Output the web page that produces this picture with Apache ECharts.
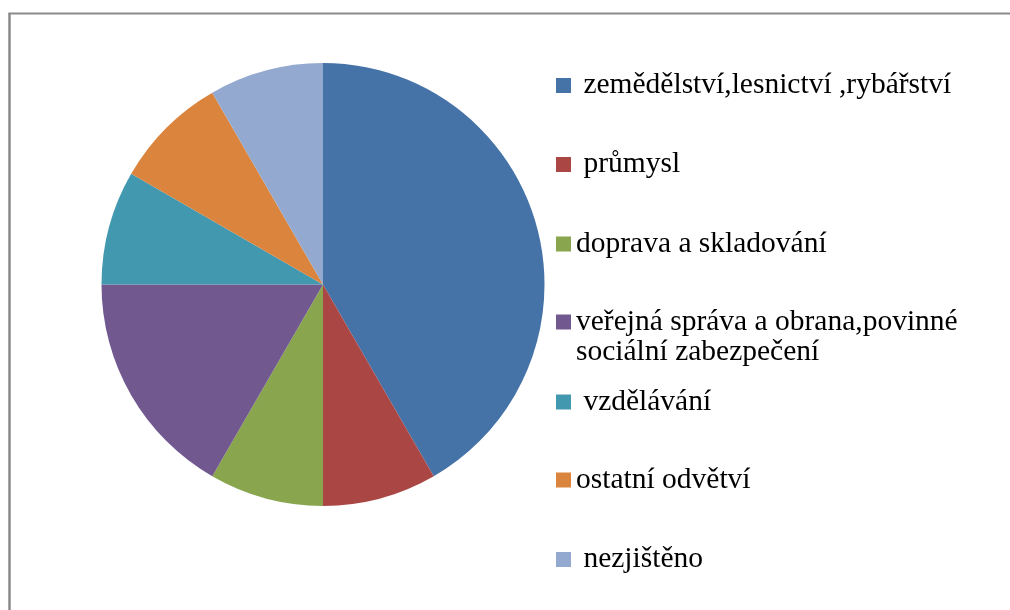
<!DOCTYPE html>
<html>
<head>
<meta charset="utf-8">
<script src="https://cdn.jsdelivr.net/npm/echarts@6/dist/echarts.min.js"></script>
<style>
html,body{margin:0;padding:0;background:#fff;}
#c{width:1010px;height:610px;}
</style>
</head>
<body>
<div id="c"></div>
<script>
const categories = [
  ' zemědělství,lesnictví ,rybářství',
  ' průmysl',
  'doprava a skladování',
  'veřejná správa a obrana,povinné\nsociální zabezpečení',
  ' vzdělávání',
  'ostatní odvětví',
  ' nezjištěno'
];
const values = [5, 1, 1, 2, 1, 1, 1];
const colors = ['#4572A7', '#AA4643', '#89A54E', '#71588F', '#4198AF', '#DB843D', '#93A9CF'];

const legendCenters = [85.5, 164.5, 244, 322, 402, 480, 559.5];
const LH = 30;

const chart = echarts.init(document.getElementById('c'), null, {renderer: 'canvas'});

const legends = categories.map((name, i) => {
  const multi = name.indexOf('\n') >= 0;
  return {
    data: [name],
    orient: 'vertical',
    left: 556,
    top: multi ? legendCenters[i] - LH * 1.5 : legendCenters[i] - LH / 2,
    padding: 0,
    itemWidth: 15,
    itemHeight: 15,
    icon: 'rect',
    selectedMode: false,
    formatter: multi ? (n => '\n' + n) : (n => n),
    textStyle: {
      fontFamily: 'Liberation Serif',
      fontSize: 29.5,
      color: '#000',
      lineHeight: LH
    }
  };
});

chart.setOption({
  animation: false,
  color: colors,
  legend: legends,
  graphic: [
    {type: 'line', shape: {x1: 9.5, y1: 13, x2: 9.5, y2: 610}, style: {stroke: '#8a8a8a', lineWidth: 2.5}},
    {type: 'line', shape: {x1: 8.5, y1: 13.5, x2: 1010, y2: 13.5}, style: {stroke: '#8a8a8a', lineWidth: 2}}
  ],
  series: [{
    type: 'pie',
    center: [323, 284.5],
    radius: [0, 221.5],
    startAngle: 90,
    clockwise: true,
    label: {show: false},
    labelLine: {show: false},
    emphasis: {disabled: true},
    itemStyle: {borderWidth: 0},
    data: categories.map((n, i) => ({name: n, value: values[i]}))
  }]
});
</script>
</body>
</html>
